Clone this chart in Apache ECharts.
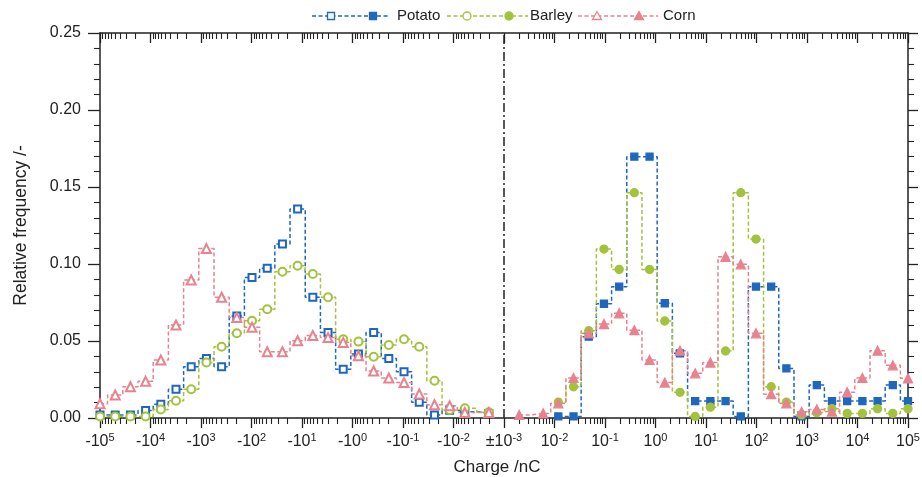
<!DOCTYPE html>
<html>
<head>
<meta charset="utf-8">
<script src="https://cdn.jsdelivr.net/npm/echarts@6/dist/echarts.min.js"></script>
<style>
html,body{margin:0;padding:0;background:#fff;}
#chart{width:922px;height:477px;}
</style>
</head>
<body>
<div id="chart"></div>
<script>
// Bin centres (charge in nC) for the negative and positive halves
const negCharge = [-1e5, -5e4, -2.5e4, -1.25e4, -6250, -3125, -1562.5, -781.25, -390.6, -195.3, -97.66, -48.83, -24.41, -12.21, -6.104, -3.052, -1.526, -0.763, -0.381, -0.191, -0.0954, -0.0477, -0.0238, -0.0119, -0.00596, -0.002];
const posCharge = [0.002, 0.00596, 0.0119, 0.0238, 0.0477, 0.0954, 0.191, 0.381, 0.763, 1.526, 3.052, 6.104, 12.21, 24.41, 48.83, 97.66, 195.3, 390.6, 781.25, 1562.5, 3125, 6250, 1.25e4, 2.5e4, 5e4, 1e5];

// Relative frequency values
const potatoNeg = [0.002, 0.002, 0.002, 0.0048, 0.009, 0.0187, 0.0333, 0.0387, 0.0333, 0.0662, 0.0913, 0.0972, 0.113, 0.1357, 0.0784, 0.0556, 0.0316, 0.0416, 0.0556, 0.0387, 0.0301, 0.0102, 0.002, 0.005, 0.004, 0.003];
const barleyNeg = [0.001, 0.001, 0.001, 0.001, 0.0056, 0.0112, 0.0187, 0.0361, 0.0463, 0.055, 0.0632, 0.0706, 0.095, 0.0989, 0.0935, 0.0784, 0.0511, 0.0496, 0.0398, 0.0474, 0.0511, 0.0463, 0.0242, 0.0052, 0.0063, 0.0037];
const cornNeg   = [0.0093, 0.0149, 0.0203, 0.0238, 0.0377, 0.0604, 0.0896, 0.110, 0.0784, 0.0652, 0.0589, 0.043, 0.043, 0.0502, 0.0535, 0.0522, 0.0491, 0.0404, 0.0305, 0.026, 0.023, 0.0156, 0.0086, 0.0079, 0.0036, 0.0036];
const potatoPos = [null, null, 0.001, 0.001, 0.0528, 0.0742, 0.0853, 0.1697, 0.1697, 0.0745, 0.042, 0.011, 0.011, 0.011, 0.001, 0.0853, 0.0853, 0.0322, 0.001, 0.0214, 0.011, 0.011, 0.011, 0.011, 0.0214, 0.011];
const barleyPos = [null, null, 0.0103, 0.0203, 0.0567, 0.1097, 0.0965, 0.1463, 0.0965, 0.063, 0.0167, 0.001, 0.007, 0.0435, 0.1463, 0.1162, 0.0203, 0.0103, 0.002, 0.0035, 0.006, 0.003, 0.003, 0.006, 0.003, 0.006];
const cornPos   = [0.002, 0.003, 0.0095, 0.026, 0.055, 0.061, 0.068, 0.057, 0.0377, 0.023, 0.0437, 0.029, 0.036, 0.1047, 0.0998, 0.055, 0.0155, 0.0095, 0.004, 0.0056, 0.0042, 0.0167, 0.026, 0.0437, 0.0342, 0.0258];

// Tick positions (decades from the ±10^-3 centre)
const majorTicks = [-8, -7, -6, -5, -4, -3, -2, -1, 0, 1, 2, 3, 4, 5, 6, 7, 8];
const yTicks = [0, 0.05, 0.10, 0.15, 0.20, 0.25];

const FONT = '"Liberation Sans", Arial, Helvetica, sans-serif';
const C_POT = '#1f67bd', C_BAR = '#a3c23d', C_CORN = '#e8828f';

const toU = q => q < 0 ? -(Math.log10(-q) + 3) : (Math.log10(q) + 3);
const minorTicks = [];
for (let n = 0; n < 8; n++) for (let m = 2; m <= 9; m++) { const d = n + Math.log10(m); minorTicks.push(d, -d); }

function pairs(xs, ys) {
  const out = [];
  xs.forEach((q, i) => { if (ys[i] !== null) out.push([toU(q), ys[i]]); });
  return out;
}
function labelFmt(v) {
  v = Math.round(v);
  if (v === 0) return '{b|\u00b110}{s|-3}';
  if (v < 0) return '{b|-10}{s|' + (-v - 3) + '}';
  return '{b|10}{s|' + (v - 3) + '}';
}

const chart = echarts.init(document.getElementById('chart'), null, {renderer: 'canvas'});

const lineBase = (name, data, color, symbol, size) => ({
  name, type: 'line', data, step: 'middle', xAxisIndex: 0, yAxisIndex: 0,
  symbol, symbolSize: size, showAllSymbol: true,
  lineStyle: {color, width: 1.5, type: [4, 2.5]},
  itemStyle: {color, borderColor: color, borderWidth: 1.3},
  emphasis: {disabled: true}, animation: false, z: 3
});

const axisLineStyle = {show: true, onZero: false, lineStyle: {color: '#222', width: 1.5}};
const noLine = {show: false, onZero: false};
const baseX = {type: 'value', min: -8, max: 8, splitLine: {show: false}, gridIndex: 0};

const option = {
  backgroundColor: '#fff',
  animation: false,
  grid: {left: 100, right: 14, top: 33, bottom: 59, containLabel: false, outerBoundsMode: 'none'},
  xAxis: [
    Object.assign({}, baseX, {
      position: 'bottom', interval: 1,
      axisLine: axisLineStyle,
      axisTick: {show: true, inside: false, length: 10, lineStyle: {color: '#222', width: 1.3}, customValues: majorTicks},
      axisLabel: {show: true, margin: 14, customValues: majorTicks, formatter: labelFmt,
        rich: {b: {fontSize: 16, fontFamily: FONT, color: '#222'}, s: {fontSize: 11, fontFamily: FONT, color: '#222', padding: [0, 0, 9, 0]}}},
      name: 'Charge /nC', nameLocation: 'middle', nameGap: 41,
      nameTextStyle: {fontSize: 17, fontFamily: FONT, color: '#222', padding: [0, 14, 0, 0]}
    }),
    Object.assign({}, baseX, {
      position: 'bottom', axisLine: noLine,
      axisTick: {show: true, inside: false, length: 6, lineStyle: {color: '#222', width: 1.1}, customValues: minorTicks},
      axisLabel: {show: false}
    }),
    Object.assign({}, baseX, {
      position: 'top', interval: 1, axisLine: axisLineStyle,
      axisTick: {show: true, inside: true, length: 10, lineStyle: {color: '#222', width: 1.3}, customValues: majorTicks},
      axisLabel: {show: false}
    }),
    Object.assign({}, baseX, {
      position: 'top', axisLine: noLine,
      axisTick: {show: true, inside: true, length: 6, lineStyle: {color: '#222', width: 1.1}, customValues: minorTicks},
      axisLabel: {show: false}
    })
  ],
  yAxis: [
    {type: 'value', min: 0, max: 0.25, interval: 0.05, position: 'left', splitLine: {show: false},
      axisLine: axisLineStyle,
      axisTick: {show: true, inside: false, length: 12, lineStyle: {color: '#222', width: 1.3}},
      minorTick: {show: true, splitNumber: 5, length: 6, lineStyle: {color: '#222', width: 1.1}},
      axisLabel: {show: true, margin: 19, fontSize: 16, fontFamily: FONT, color: '#222', formatter: v => v.toFixed(2)},
      name: 'Relative frequency /-', nameLocation: 'middle', nameGap: 70,
      nameTextStyle: {fontSize: 17.5, fontFamily: FONT, color: '#222'}
    },
    {type: 'value', min: 0, max: 0.25, interval: 0.05, position: 'right', splitLine: {show: false},
      axisLine: axisLineStyle,
      axisTick: {show: true, inside: false, length: 10, lineStyle: {color: '#222', width: 1.3}},
      minorTick: {show: true, splitNumber: 5, length: 6, lineStyle: {color: '#222', width: 1.1}},
      axisLabel: {show: false}
    }
  ],
  series: [
    Object.assign(lineBase('Potato', pairs(negCharge, potatoNeg), C_POT, 'emptyRect', 7), {
      markLine: {silent: true, symbol: 'none', label: {show: false},
        lineStyle: {color: '#222', width: 1.5, type: [9, 3, 2, 3]},
        data: [{xAxis: 0}], animation: false}
    }),
    lineBase('Potato', pairs(posCharge, potatoPos), C_POT, 'rect', 7),
    lineBase('Barley', pairs(negCharge, barleyNeg), C_BAR, 'emptyCircle', 8),
    lineBase('Barley', pairs(posCharge, barleyPos), C_BAR, 'circle', 8),
    lineBase('Corn', pairs(negCharge, cornNeg), C_CORN, 'emptyTriangle', 9),
    lineBase('Corn', pairs(posCharge, cornPos), C_CORN, 'triangle', 9)
  ],
  graphic: []
};

// Legend drawn as graphics (dashed line with open and filled markers)
function legendItem(x0, x1, xo, xf, xt, color, kind, text) {
  const y = 16, els = [];
  els.push({type: 'line', shape: {x1: x0, y1: y, x2: x1, y2: y}, style: {stroke: color, lineWidth: 1.5, lineDash: [4, 2.5]}, silent: true});
  const mk = (x, filled) => {
    const fill = filled ? color : '#fff';
    if (kind === 'rect') return {type: 'rect', shape: {x: x - 3.5, y: y - 3.5, width: 7, height: 7}, style: {fill, stroke: color, lineWidth: 1.3}, silent: true};
    if (kind === 'circle') return {type: 'circle', shape: {cx: x, cy: y, r: 4}, style: {fill, stroke: color, lineWidth: 1.3}, silent: true};
    return {type: 'polygon', shape: {points: [[x, y - 4.5], [x + 4.5, y + 3.5], [x - 4.5, y + 3.5]]}, style: {fill, stroke: color, lineWidth: 1.3}, silent: true};
  };
  els.push(mk(xo, false), mk(xf, true));
  els.push({type: 'text', x: xt, y: y, style: {text, fontSize: 15, fontFamily: FONT, fill: '#222', verticalAlign: 'middle', align: 'left'}, silent: true});
  return els;
}
option.graphic = [].concat(
  legendItem(312, 390, 331, 373, 397, C_POT, 'rect', 'Potato'),
  legendItem(447, 528, 467, 509, 530, C_BAR, 'circle', 'Barley'),
  legendItem(578, 658, 597, 639, 663, C_CORN, 'tri', 'Corn')
);

chart.setOption(option);
</script>
</body>
</html>
